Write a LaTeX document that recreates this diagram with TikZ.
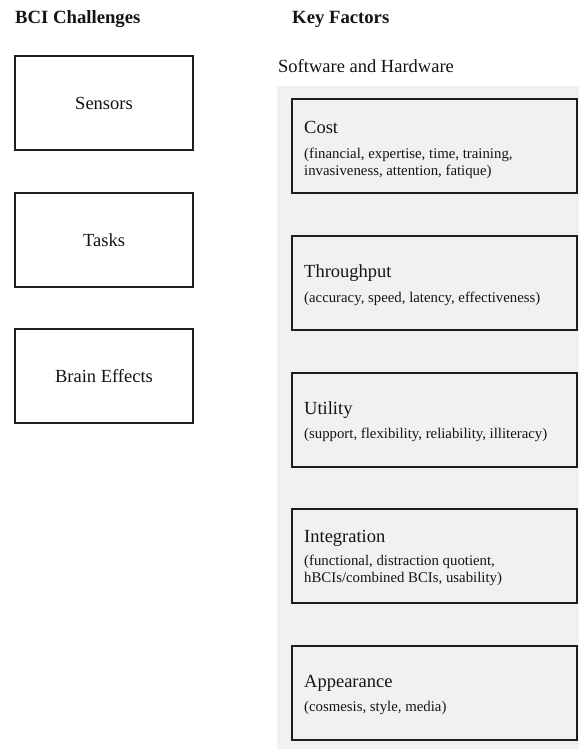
\documentclass[tikz,border=0pt]{standalone}
\usepackage{fontspec}
\setmainfont{Liberation Serif}
\definecolor{panelgray}{RGB}{241,241,241}
\definecolor{edge}{RGB}{30,30,30}
\definecolor{ink}{RGB}{20,20,20}
\begin{document}
\begin{tikzpicture}[x=1pt,y=-1pt,
  heading/.style={font=\fontsize{18.7}{22}\selectfont\bfseries, text=ink, inner sep=0pt, anchor=base west},
  boxtitle/.style={font=\fontsize{18.5}{22}\selectfont, text=ink, inner sep=0pt, anchor=base west},
  boxsub/.style={font=\fontsize{14.8}{17}\selectfont, text=ink, inner sep=0pt, anchor=base west},
  leftbox/.style={draw=edge, line width=1.4pt, fill=white, minimum width=178pt, minimum height=94pt, inner sep=0pt, font=\fontsize{18.5}{22}\selectfont, text=ink},
  rightbox/.style={draw=edge, line width=1.4pt, fill=panelgray, minimum width=285pt, minimum height=94pt, inner sep=0pt}]
\useasboundingbox (0,0) rectangle (579,750);
\fill[white] (0,0) rectangle (579,750);
% gray panel
\fill[panelgray] (277,86) rectangle (579,749);
% headings
\node[heading] (h1) at (15,23) {BCI Challenges};
\node[heading] (h2) at (292,23) {Key Factors};
\node[boxtitle] (sw) at (278,72) {Software and Hardware};
% left boxes
\node[leftbox] (sensors) at (104,103) {Sensors};
\node[leftbox] (tasks) at (104,240) {Tasks};
\node[leftbox] (brain) at (104,376) {Brain Effects};
% right boxes
\node[rightbox] (cost) at (434.5,146) {};
\node[rightbox] (thr) at (434.5,283) {};
\node[rightbox] (util) at (434.5,420) {};
\node[rightbox] (integ) at (434.5,556) {};
\node[rightbox] (app) at (434.5,693) {};
% texts
\node[boxtitle] (costT) at (304,133) {Cost};
\node[boxsub] (costS1) at (304,158) {(financial, expertise, time, training,};
\node[boxsub] (costS2) at (304,175) {invasiveness, attention, fatique)};
\node[boxtitle] (thrT) at (304,277) {Throughput};
\node[boxsub] (thrS) at (304,302) {(accuracy, speed, latency, effectiveness)};
\node[boxtitle] (utilT) at (304,414) {Utility};
\node[boxsub] (utilS) at (304,438) {(support, flexibility, reliability, illiteracy)};
\node[boxtitle] (integT) at (304,542) {Integration};
\node[boxsub] (integS1) at (304,565) {(functional, distraction quotient,};
\node[boxsub] (integS2) at (304,582) {hBCIs/combined BCIs, usability)};
\node[boxtitle] (appT) at (304,687) {Appearance};
\node[boxsub] (appS) at (304,711) {(cosmesis, style, media)};
\end{tikzpicture}
\end{document}
